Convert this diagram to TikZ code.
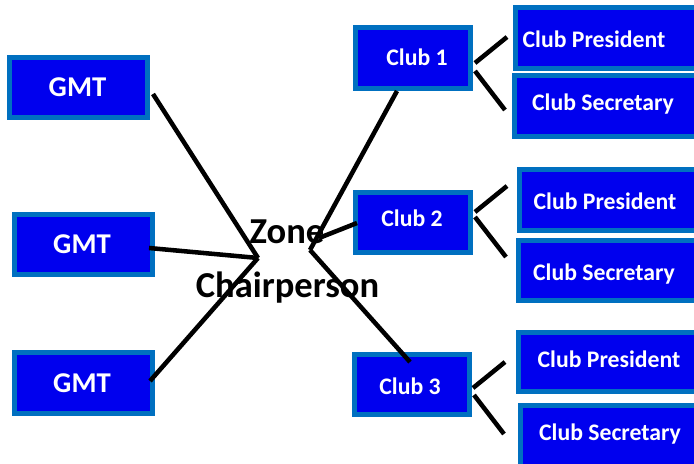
\documentclass[tikz,border=0pt]{standalone}
\usepackage{fontspec}
\setmainfont{Carlito}
\definecolor{boxfill}{RGB}{0,0,238}
\definecolor{boxedge}{RGB}{0,112,192}
\tikzset{
  box/.style={draw=boxedge, fill=boxfill, line width=3.75pt, rectangle, inner sep=0pt},
  gmtbox/.style={box, minimum width=103.5pt, minimum height=45pt},
  clubbox/.style={box, minimum width=86.25pt, minimum height=45.75pt},
  rolebox/.style={box, minimum width=136.5pt, minimum height=45.75pt},
  gmttxt/.style={text=white, font=\bfseries\fontsize{21.5pt}{24pt}\selectfont, anchor=base, inner sep=0pt},
  clubtxt/.style={text=white, font=\bfseries\fontsize{17.8pt}{20pt}\selectfont, anchor=base, inner sep=0pt},
  zonetxt/.style={text=black, font=\bfseries\fontsize{27.4pt}{30pt}\selectfont, anchor=base, inner sep=0pt},
  link/.style={draw=black, line width=3.4pt}
}
\begin{document}
\begin{tikzpicture}[x=0.75pt, y=-0.75pt]
\useasboundingbox (0,0) rectangle (694,464);
\clip (0,0) rectangle (694,464);
% boxes
\node[gmtbox] (gmt1) at (78.5,87.5) {};
\node[gmtbox] (gmt2) at (83.5,244.5) {};
\node[gmtbox, minimum height=45.75pt] (gmt3) at (83.5,383) {};
\node[clubbox] (club1) at (413,58) {};
\node[clubbox, minimum height=45pt] (club2) at (413,222.5) {};
\node[clubbox, minimum height=45pt] (club3) at (412,384.5) {};
\node[rolebox] (cp1) at (606.5,38) {};
\node[rolebox, minimum width=137.25pt] (cs1) at (606,106) {};
\node[rolebox, minimum width=133.5pt] (cp2) at (608.5,200) {};
\node[rolebox, minimum width=134.25pt, minimum height=45pt] (cs2) at (608,270.5) {};
\node[rolebox, minimum width=134.25pt, minimum height=44.25pt] (cp3) at (608,362) {};
\node[rolebox, minimum width=132.75pt] (cs3) at (609,435.5) {};
% texts
\node[gmttxt] (tg1) at (77.5,96) {GMT};
\node[gmttxt] (tg2) at (82,253) {GMT};
\node[gmttxt] (tg3) at (82,392) {GMT};
\node[clubtxt] (tc1) at (417,65) {Club 1};
\node[clubtxt] (tc2) at (412,226) {Club 2};
\node[clubtxt] (tc3) at (410,394) {Club 3};
\node[clubtxt] (tp1) at (594,47) {Club President};
\node[clubtxt] (ts1) at (603,110) {Club Secretary};
\node[clubtxt] (tp2) at (605,209) {Club President};
\node[clubtxt] (ts2) at (604,280) {Club Secretary};
\node[clubtxt] (tp3) at (609,367) {Club President};
\node[clubtxt] (ts3) at (610,440) {Club Secretary};
\node[zonetxt] (zone) at (287,243) {Zone};
\node[zonetxt] (chair) at (287.5,297) {Chairperson};
% junctions
\coordinate (zl) at (258,258);
\coordinate (zr) at (310,250);
\coordinate (zm) at (319,238);
% connectors
\draw[link] ([shift={(3,6.5)}]gmt1.east) -- (zl);
\draw[link] ([shift={(-6,3.5)}]gmt2.east) -- (zl);
\draw[link] ([shift={(-5,-2)}]gmt3.east) -- (zl);
\draw[link] (zr) -- ([shift={(-16,0)}]club1.south);
\draw[link] (zm) -- ([shift={(4,0.5)}]club2.west);
\draw[link] (zr) -- ([shift={(-2,10)}]club3.north);
\draw[link] ([shift={(2,5)}]club1.east) -- ([shift={(-6,-1)}]cp1.west);
\draw[link] ([shift={(2,13)}]club1.east) -- ([shift={(-7,4)}]cs1.west);
\draw[link] ([shift={(2,-10.5)}]club2.east) -- ([shift={(-10,-14)}]cp2.west);
\draw[link] ([shift={(2,-5.5)}]club2.east) -- ([shift={(-10,-13.5)}]cs2.west);
\draw[link] ([shift={(1,3.5)}]club3.east) -- ([shift={(-11,0)}]cp3.west);
\draw[link] ([shift={(2,10.5)}]club3.east) -- ([shift={(-14,-1.5)}]cs3.west);
\end{tikzpicture}
\end{document}
